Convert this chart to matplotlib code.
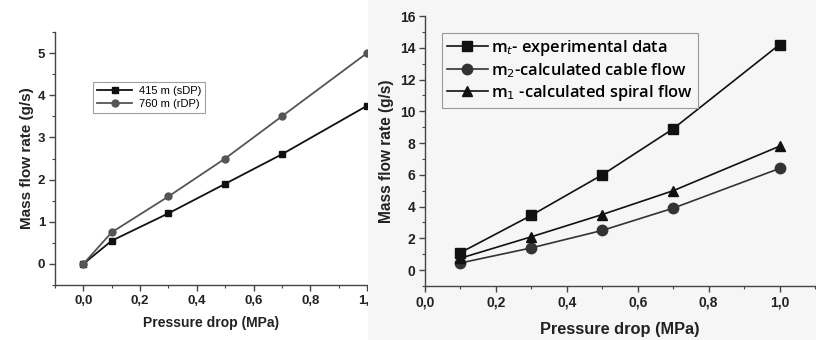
import matplotlib
matplotlib.use("Agg")
import matplotlib.pyplot as plt
from matplotlib.patches import Rectangle
from matplotlib.ticker import MultipleLocator, FuncFormatter

# ---- data ----
left_x = [0.0, 0.1, 0.3, 0.5, 0.7, 1.0]
left_sdp = [0.0, 0.55, 1.2, 1.9, 2.6, 3.75]
left_rdp = [0.0, 0.75, 1.6, 2.5, 3.5, 5.0]
left_labels = ["415 m (sDP)", "760 m (rDP)"]

right_x = [0.1, 0.3, 0.5, 0.7, 1.0]
right_exp = [1.1, 3.45, 6.0, 8.9, 14.2]
right_cable = [0.45, 1.4, 2.5, 3.9, 6.4]
right_spiral = [0.75, 2.1, 3.5, 5.0, 7.8]
right_labels = ["m$_t$- experimental data", "m$_2$-calculated cable flow",
                "m$_1$ -calculated spiral flow"]

xlabel = "Pressure drop (MPa)"
ylabel = "Mass flow rate (g/s)"

plt.rcParams['font.family'] = ['Liberation Sans', 'DejaVu Sans']

fig = plt.figure(figsize=(8.16, 3.4), dpi=100)
fig.patch.set_facecolor('white')

comma = FuncFormatter(lambda v, p: f"{v:.1f}".replace('.', ','))
intfmt = FuncFormatter(lambda v, p: f"{v:g}")

def style(ax, ymaj, ymin, lsize):
    for s in ['top', 'right']:
        ax.spines[s].set_visible(False)
    for s in ['left', 'bottom']:
        ax.spines[s].set_color('#444444')
        ax.spines[s].set_linewidth(1.0)
    ax.xaxis.set_major_locator(MultipleLocator(0.2))
    ax.xaxis.set_minor_locator(MultipleLocator(0.1))
    ax.yaxis.set_major_locator(MultipleLocator(ymaj))
    ax.yaxis.set_minor_locator(MultipleLocator(ymin))
    ax.xaxis.set_major_formatter(comma)
    ax.yaxis.set_major_formatter(intfmt)
    ax.tick_params(which='major', direction='out', length=4, width=1, color='#444444',
                   labelsize=lsize, labelcolor='#222222', pad=3)
    ax.tick_params(which='minor', direction='out', length=2, width=0.8, color='#444444')
    for lab in ax.get_xticklabels() + ax.get_yticklabels():
        lab.set_fontweight('bold')

# ---- left panel ----
axL = fig.add_axes([55/816, 1-285/340, (367-55)/816, (285-32)/340])
axL.set_zorder(0)
axL.plot(left_x, left_sdp, '-s', color='#111111', lw=1.3, ms=5, label=left_labels[0])
axL.plot(left_x, left_rdp, '-o', color='#555555', lw=1.3, ms=5, label=left_labels[1])
axL.set_xlim(-0.1, 1.0)
axL.set_ylim(-0.5, 5.5)
style(axL, 1, 0.5, 9.5)
axL.set_xlabel(xlabel, fontsize=10, fontweight='bold', color='#222222', labelpad=7)
axL.set_ylabel(ylabel, fontsize=11, fontweight='bold', color='#222222', labelpad=3)
legL = axL.legend(loc='upper left', bbox_to_anchor=((93-55)/312, (285-82)/253),
                  fontsize=8, frameon=True, fancybox=False, edgecolor='#888888',
                  borderpad=0.35, labelspacing=0.3, handlelength=3.2, handletextpad=0.6,
                  borderaxespad=0)
legL.get_frame().set_linewidth(0.8)

# ---- right panel background ----
bg = Rectangle((368/816, 0), 1-368/816, 1, transform=fig.transFigure,
               facecolor='#f6f6f6', edgecolor='none', zorder=1)
fig.patches.append(bg)

# ---- right panel ----
axR = fig.add_axes([425/816, 1-286/340, (815-425)/816, (286-16)/340])
axR.set_zorder(2)
axR.set_facecolor('#f6f6f6')
axR.plot(right_x, right_exp, '-s', color='#111111', lw=1.2, ms=7.5, label=right_labels[0])
axR.plot(right_x, right_cable, '-o', color='#333333', lw=1.2, ms=7.5, label=right_labels[1])
axR.plot(right_x, right_spiral, '-^', color='#111111', lw=1.2, ms=7.5, label=right_labels[2])
axR.set_xlim(0, 1.1)
axR.set_ylim(-1, 16)
style(axR, 2, 1, 10)
axR.set_xlabel(xlabel, fontsize=11.8, fontweight='bold', color='#222222', labelpad=9)
axR.set_ylabel(ylabel, fontsize=11.2, fontweight='bold', color='#222222', labelpad=4)
legR = axR.legend(loc='upper left', bbox_to_anchor=((442-425)/390, (286-33)/270),
                  frameon=True, fancybox=False, edgecolor='#999999',
                  facecolor='#f6f6f6', framealpha=1,
                  borderpad=0.3, labelspacing=0.2, handlelength=2.5, handletextpad=0.2,
                  borderaxespad=0, prop={'family': ['Open Sans', 'DejaVu Sans'],
                                         'size': 11.8, 'weight': 'semibold'})
legR.get_frame().set_linewidth(0.8)

fig.savefig("out.png", dpi=100, facecolor=fig.get_facecolor())
